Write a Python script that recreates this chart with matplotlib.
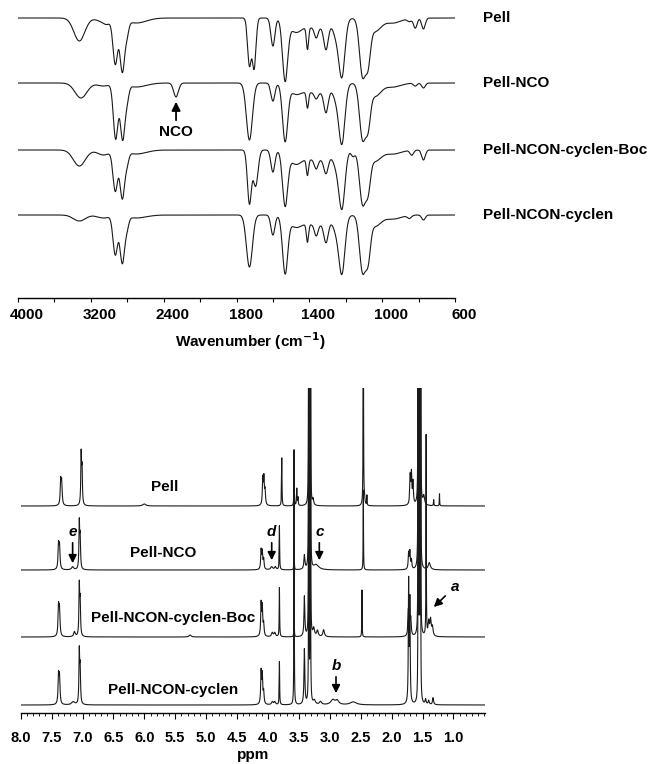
import numpy as np
import matplotlib.pyplot as plt
from matplotlib import transforms
from matplotlib.ticker import MultipleLocator

plt.rcParams['font.family'] = ['Liberation Sans', 'DejaVu Sans']
plt.rcParams['font.weight'] = 'bold'

# ---------------- IR data (wavenumber, dip depth, width in px) ----------------
ir_names = ['Pell', 'Pell-NCO', 'Pell-NCON-cyclen-Boc', 'Pell-NCON-cyclen']
ir_baselines = [280, 215, 148, 83]

ir_pell = [(3326, 23, 5.5), (3060, 4, 6), (3020, 3, 3), (2931, 45, 2.3), (2854, 52, 2.3),
           (2802, 12, 1.8), (2700, 5, 10), (1729, 47, 1.8), (1703, 50, 1.8), (1600, 28, 2.0),
           (1533, 60, 2.6), (1478, 11, 6), (1410, 22, 1.1), (1362, 10, 1.8), (1308, 24, 2.2),
           (1253, 13, 3.0), (1221, 56, 3.0), (1108, 56, 3.0), (1077, 36, 2.4), (1040, 13, 6),
           (940, 5, 8), (850, 3, 2), (818, 10, 1.8), (773, 11, 1.8), (1363, 10, 14)]
ir_nco = [(3308, 15, 6), (3060, 3, 6), (2927, 55, 2.3), (2850, 55, 2.3), (2800, 12, 1.8),
          (2700, 4, 10), (2298, 14, 2.4), (1729, 57, 3.0), (1600, 18, 2.0), (1533, 56, 2.6),
          (1478, 8, 6), (1410, 16, 1.1), (1362, 6, 1.8), (1308, 22, 2.2), (1253, 11, 3.0),
          (1221, 58, 3.0), (1108, 54, 3.0), (1077, 34, 2.4), (1040, 13, 6), (940, 4, 8),
          (818, 3, 1.8), (773, 5, 1.8), (1363, 10, 14)]
ir_boc = [(3326, 16, 6), (3060, 5, 6), (2931, 40, 2.3), (2854, 47, 2.3), (2802, 10, 1.8),
          (2700, 4, 10), (1729, 53, 2.0), (1695, 36, 2.4), (1600, 22, 2.0), (1533, 53, 2.6),
          (1478, 11, 6), (1410, 16, 1.1), (1362, 9, 1.8), (1308, 16, 2.2), (1253, 11, 3.0),
          (1221, 56, 3.0), (1160, 6, 1.8), (1108, 52, 3.0), (1077, 32, 2.4), (1040, 11, 6),
          (940, 4, 8), (837, 5, 1.8), (773, 10, 1.8), (1363, 10, 14)]
ir_cyclen = [(3326, 6, 6), (3060, 3, 6), (2931, 39, 2.3), (2854, 47, 2.3), (2802, 10, 1.8),
             (2700, 3, 10), (1729, 52, 3.0), (1600, 20, 2.0), (1533, 56, 2.6), (1478, 9, 6),
             (1410, 18, 1.1), (1362, 11, 1.8), (1308, 20, 2.2), (1253, 11, 3.0), (1221, 56, 3.0),
             (1108, 55, 3.0), (1077, 36, 2.4), (1040, 11, 6), (940, 4, 8), (850, 3, 2),
             (773, 5, 1.8), (1363, 10, 14)]
ir_peaks = [ir_pell, ir_nco, ir_boc, ir_cyclen]

ir_ticks = [4000, 3600, 3200, 2800, 2400, 2100, 1800, 1600, 1400, 1200, 1000, 800, 600]
ir_ticklabels = ['4000', '', '3200', '', '2400', '', '1800', '', '1400', '', '1000', '', '600']

# ---------------- NMR data (ppm, height, half width) ----------------
nmr_names = ['Pell', 'Pell-NCO', 'Pell-NCON-cyclen-Boc', 'Pell-NCON-cyclen']
nmr_baselines = [207, 143, 76, 8]

bar33 = [(3.34, 900, 0.002), (3.315, 900, 0.002)]
bar15 = [(1.57, 900, 0.002), (1.552, 900, 0.002), (1.534, 900, 0.002)]

nmr_pell = [(7.353, 24, 0.009), (7.337, 22, 0.009), (7.022, 50, 0.007), (7.008, 34, 0.007),
            (6.0, 2, 0.03), (4.084, 26, 0.008), (4.066, 26, 0.008), (4.047, 14, 0.008),
            (3.777, 48, 0.004), (3.578, 55, 0.003), (3.534, 17, 0.005), (3.515, 8, 0.005),
            (3.27, 6, 0.01), (2.458, 300, 0.003), (2.44, 6, 0.01), (2.40, 10, 0.003),
            (1.70, 28, 0.008), (1.68, 30, 0.008), (1.655, 22, 0.008), (1.48, 9, 0.015),
            (1.32, 6, 0.004), (1.226, 12, 0.003)] + bar33 + bar15
nmr_nco = [(7.388, 24, 0.009), (7.372, 22, 0.009), (7.16, 3, 0.02), (7.052, 46, 0.007),
           (7.038, 30, 0.007), (4.111, 19, 0.008), (4.092, 17, 0.008), (4.07, 10, 0.008),
           (3.94, 3, 0.02), (3.88, 3, 0.015), (3.815, 44, 0.004), (3.578, 30, 0.003),
           (3.411, 14, 0.01), (3.22, 5, 0.05), (2.458, 80, 0.003),
           (1.725, 16, 0.008), (1.705, 17, 0.008), (1.68, 9, 0.008), (1.39, 7, 0.02)] + bar33 + bar15
nmr_boc = [(7.388, 29, 0.009), (7.372, 26, 0.009), (7.13, 5, 0.015), (7.052, 50, 0.007),
           (7.038, 33, 0.007), (5.26, 2, 0.02), (4.111, 32, 0.008), (4.092, 28, 0.008),
           (4.07, 12, 0.008), (3.93, 4, 0.015), (3.89, 4, 0.015), (3.815, 49, 0.004),
           (3.578, 30, 0.003), (3.411, 40, 0.008), (3.26, 8, 0.015), (3.20, 6, 0.015),
           (3.10, 7, 0.015), (2.48, 47, 0.003), (1.73, 24, 0.008), (1.71, 26, 0.008),
           (1.69, 16, 0.008), (1.442, 200, 0.003), (1.40, 14, 0.012), (1.37, 16, 0.012),
           (1.34, 9, 0.012)] + bar33 + bar15
nmr_cyclen = [(7.388, 28, 0.009), (7.372, 26, 0.009), (7.15, 3, 0.03), (7.052, 52, 0.007),
              (7.038, 34, 0.007), (4.111, 32, 0.008), (4.092, 28, 0.008), (4.07, 12, 0.008),
              (3.93, 3, 0.015), (3.89, 3, 0.015), (3.815, 43, 0.004), (3.578, 255, 0.003),
              (3.411, 55, 0.008), (3.25, 4, 0.02), (3.15, 3, 0.02), (2.95, 5, 0.04),
              (2.88, 4, 0.03), (2.62, 3, 0.06), (1.725, 120, 0.006), (1.705, 100, 0.006),
              (1.45, 5, 0.01), (1.40, 4, 0.01), (1.33, 7, 0.01)] + bar33 + bar15
nmr_peaks = [nmr_pell, nmr_nco, nmr_boc, nmr_cyclen]

# labels a-e: (text, text x, text y, arrow tail, arrow head)
nmr_marks = [('e', 7.16, 181, (7.16, 173), (7.16, 147)),
             ('d', 3.94, 181, (3.94, 173), (3.94, 150)),
             ('c', 3.17, 181, (3.17, 173), (3.17, 150)),
             ('b', 2.90, 47, (2.90, 39), (2.90, 17)),
             ('a', 0.97, 126, (1.10, 119), (1.35, 104))]
nmr_label_pos = [(5.665, 226), (5.70, 160), (5.535, 95), (5.535, 23)]

# ---------------- piecewise wavenumber axis ----------------
wn_knots = [600, 1800, 2400, 4000]
u_knots = [0, 6, 8, 12]


def fwd(w):
    w = np.asarray(w, float)
    u = np.interp(w, wn_knots, u_knots)
    u = np.where(w > 4000, 12 + (w - 4000) / 400, u)
    u = np.where(w < 600, (w - 600) / 200, u)
    return u


def inv(u):
    u = np.asarray(u, float)
    w = np.interp(u, u_knots, wn_knots)
    w = np.where(u > 12, 4000 + (u - 12) * 400, w)
    w = np.where(u < 0, 600 + u * 200, w)
    return w


PX = 36.4  # pixels per axis unit
u_grid = np.linspace(0.0, 12.0, 5000)
wn_grid = inv(u_grid)
ppm = np.linspace(0.49, 8.0, 30000)

fig = plt.figure(figsize=(6.54, 7.64), dpi=100)

# ---------------- IR panel ----------------
ax1 = fig.add_axes([18 / 654, 466 / 764, 437 / 654, 298 / 764])
ax1.set_xscale('function', functions=(fwd, inv))
for base, peaks in zip(ir_baselines, ir_peaks):
    y = np.full_like(u_grid, base, dtype=float)
    for p, d, s in peaks:
        y -= d * np.exp(-0.5 * ((u_grid - fwd(p)) / (s / PX)) ** 2)
    ax1.plot(wn_grid, y, color='#1a1a1a', lw=0.8)

ax1.set_xlim(4000, 600)
ax1.set_ylim(0, 298)
ax1.set_xticks(ir_ticks)
ax1.set_xticklabels(ir_ticklabels)
ax1.minorticks_off()
ax1.tick_params(axis='x', direction='out', length=3, width=0.8, pad=4, labelsize=11)
# tick labels sit a little right of their ticks in the original
shift = transforms.ScaledTranslation(9 / 100, 0, fig.dpi_scale_trans)
for lbl in ax1.get_xticklabels():
    lbl.set_transform(lbl.get_transform() + shift)
ax1.set_yticks([])
for s in ['top', 'left', 'right']:
    ax1.spines[s].set_visible(False)
ax1.spines['bottom'].set_linewidth(1.0)
ax1.set_xlabel('Wavenumber (cm$^{\\mathbf{-1}}$)', fontsize=11, fontweight='bold')
ax1.xaxis.set_label_coords((250 - 18) / 437, -0.11)

trans1 = transforms.blended_transform_factory(ax1.transAxes, ax1.transData)
for name, base in zip(ir_names, ir_baselines):
    ax1.text(1.064, base, name, transform=trans1, ha='left', va='center',
             fontsize=11, fontweight='bold', clip_on=False)

ax1.annotate('', xy=(2298, 199), xytext=(2298, 175),
             arrowprops=dict(arrowstyle='-|>', color='k', lw=1.3, mutation_scale=13))
ax1.text(2298, 166, 'NCO', ha='center', va='center', fontsize=11, fontweight='bold')

# ---------------- NMR panel ----------------
ax2 = fig.add_axes([20.7 / 654, 51 / 764, 464.3 / 654, 325 / 764])
for base, peaks in zip(nmr_baselines, nmr_peaks):
    y = np.full_like(ppm, base, dtype=float)
    for p, h, w in peaks:
        y += h * w ** 2 / ((ppm - p) ** 2 + w ** 2)
    ax2.plot(ppm, y, color='#1a1a1a', lw=0.8)

ax2.set_xlim(8.0, 0.49)
ax2.set_ylim(0, 325)
ax2.set_xticks(np.arange(8.0, 0.99, -0.5))
ax2.set_xticklabels(['%.1f' % v for v in np.arange(8.0, 0.99, -0.5)])
ax2.xaxis.set_minor_locator(MultipleLocator(0.1))
ax2.tick_params(axis='x', which='major', direction='out', length=4, width=0.8, pad=9, labelsize=10.5)
ax2.tick_params(axis='x', which='minor', direction='out', length=2, width=0.6)
ax2.set_yticks([])
for s in ['top', 'left', 'right']:
    ax2.spines[s].set_visible(False)
ax2.spines['bottom'].set_linewidth(1.0)
ax2.set_xlabel('ppm', fontsize=11, fontweight='bold')
ax2.xaxis.set_label_coords(0.5, -0.108)

for name, (x, yv) in zip(nmr_names, nmr_label_pos):
    ax2.text(x, yv, name, ha='center', va='center', fontsize=11, fontweight='bold')

for lab, tx, ty, tail, head in nmr_marks:
    ax2.text(tx, ty, lab, ha='center', va='center', fontsize=11, fontweight='bold', style='italic')
    ax2.annotate('', xy=head, xytext=tail,
                 arrowprops=dict(arrowstyle='-|>', color='k', lw=1.2, mutation_scale=12))

fig.savefig('out.png', dpi=100)
